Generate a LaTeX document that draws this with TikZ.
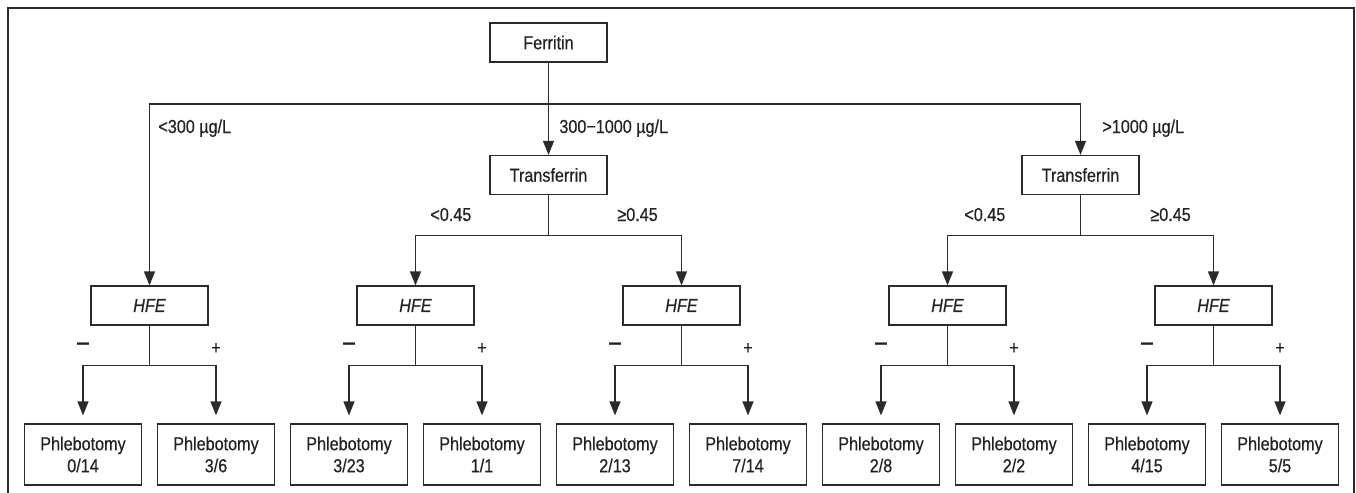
\documentclass[tikz,border=0pt]{standalone}
\usepackage{fontspec}
\setmainfont{Liberation Sans}[FakeStretch=0.86,FakeBold=0.5]
\usetikzlibrary{positioning,arrows.meta}
\definecolor{LineDark}{HTML}{2B2B2B}
\definecolor{TextDark}{HTML}{222222}

\begin{document}
\begin{tikzpicture}[x=0.5pt,y=-0.5pt,font=\fontsize{9.4}{11}\selectfont,
  box/.style={draw=LineDark,line width=0.6pt,minimum width=58.5pt,minimum height=19.5pt,
              inner sep=1pt,align=center,text=TextDark},
  leaf/.style={box,minimum height=30.5pt},
  lnk/.style={draw=LineDark,line width=0.6pt},
  arr/.style={lnk,-{Triangle[length=7pt,width=5.5pt]}},
  lbl/.style={text=TextDark,inner sep=0pt}]
\useasboundingbox (0,0) rectangle (1356,493);
\draw[LineDark,line width=0.8pt] (8,493) |- (1354,8) -- (1354,493);

% top of the tree
\node[box] (fer) at (548.5,42.5) {Ferritin};
\node[box] (tf1) at (548.5,175) {Transferrin};
\node[box] (tf2) at (1080.5,175) {Transferrin};

% HFE tests and outcomes
\foreach \k in {0,...,4} {
  \node[box] (h\k) at ({149.5+266*\k},305.5) {\textit{HFE}};
}
\foreach \i/\a/\b in {0/0/14,1/3/6,2/3/23,3/1/1,4/2/13,5/7/14,6/2/8,7/2/2,8/4/15,9/5/5} {
  \node[leaf] (p\i) at ({83+133*\i},454.5) {Phlebotomy\\\a/\b};
}

% ferritin split
\coordinate (fj) at (fer.south |- 0,104);
\draw[arr] (fer.south) -- (tf1.north);
\draw[arr] (fj) -| (h0.north);
\draw[arr] (fj) -| (tf2.north);
\node[lbl,anchor=base west] at (158,133) {<300 µg/L};
\node[lbl,anchor=base west] at (559,133) {300−1000 µg/L};
\node[lbl,anchor=base west] at (1102,133) {>1000 µg/L};

% transferrin splits
\foreach \t/\a/\b in {1/1/2,2/3/4} {
  \draw[lnk] (tf\t.south) -- ++(0,40) coordinate (tj\t);
  \draw[arr] (tj\t) -| (h\a.north);
  \draw[arr] (tj\t) -| (h\b.north);
}
\node[lbl,anchor=base west] at (430,221) {<0.45};
\node[lbl,anchor=base west] at (617,221) {≥0.45};
\node[lbl,anchor=base west] at (964,221) {<0.45};
\node[lbl,anchor=base west] at (1150,221) {≥0.45};

% HFE splits
\foreach \k in {0,...,4} {
  \pgfmathtruncatemacro\l{2*\k}
  \pgfmathtruncatemacro\r{2*\k+1}
  \draw[lnk] (h\k.south) -- ++(0,40) coordinate (hj\k);
  \draw[arr,shorten >=4pt] (hj\k) -| (p\l.north);
  \draw[arr,shorten >=4pt] (hj\k) -| (p\r.north);
  \node[lbl,anchor=base,font=\fontsize{14}{14}\selectfont] at (p\l.north |- 0,353) {−};
  \node[lbl,anchor=base] at (p\r.north |- 0,354) {+};
}
\end{tikzpicture}
\end{document}
